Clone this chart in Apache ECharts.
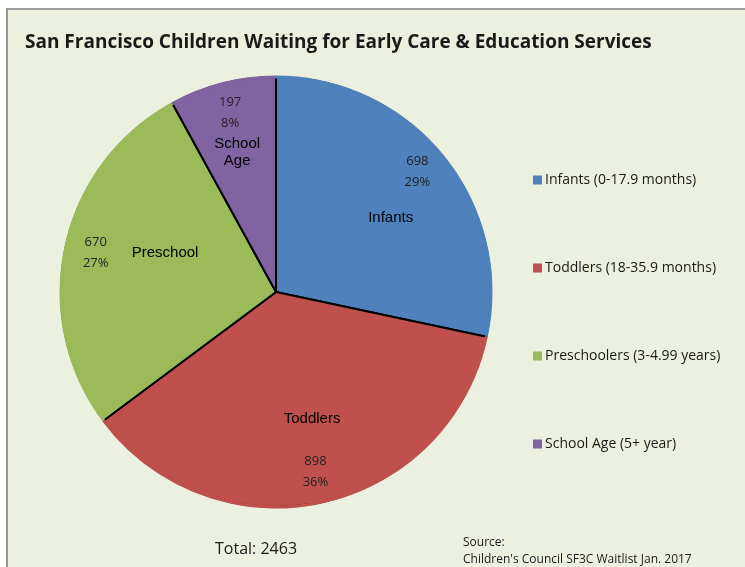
<!DOCTYPE html>
<html>
<head>
<meta charset="utf-8">
<script src="https://cdn.jsdelivr.net/npm/echarts@6/dist/echarts.min.js"></script>
<style>
html,body{margin:0;padding:0;background:#fff;width:745px;height:567px;overflow:hidden;}
#bg{position:absolute;left:6px;top:8px;width:760px;height:580px;background:#EBF1DE;border-left:2px solid #9a9a9a;border-top:2px solid #9a9a9a;box-sizing:border-box;}
#main{position:absolute;left:0;top:0;width:745px;height:567px;}
</style>
</head>
<body>
<div id="bg"></div>
<div id="main"></div>
<script>
const categories = ['Infants', 'Toddlers', 'Preschool', 'School Age'];
const legendNames = ['Infants (0-17.9 months)', 'Toddlers (18-35.9 months)', 'Preschoolers (3-4.99 years)', 'School Age (5+ year)'];
const sliceLabels = ['Infants', 'Toddlers', 'Preschool', 'School\nAge'];
const values = [698, 898, 670, 197];
const percentLabels = ['29%', '36%', '27%', '8%'];
const colors = ['#4F81BD', '#C0504D', '#9BBB59', '#8064A2'];
const sourceLines = ['Source:', "Children's Council SF3C Waitlist Jan. 2017"];

const total = values.reduce((a, b) => a + b, 0);
const data = values.map((v, i) => ({ name: legendNames[i], value: v, itemStyle: { color: colors[i] } }));
const clear = values.map((v, i) => ({ name: legendNames[i], value: v, itemStyle: { color: 'rgba(0,0,0,0)' } }));
const CX = 276, CY = 292, R = 215;
const nameNudge = [[9, 11], [7, -6], [22, -10], [-5, -8]];
const valNudge = [[-2, -4], [0, 0], [0, 0], [0, 0]];
const base = { type: 'pie', center: [CX, CY], startAngle: 90, clockwise: true, animation: false, silent: true, avoidLabelOverlap: false, labelLine: { show: false }, emphasis: { disabled: true } };

const chart = echarts.init(document.getElementById('main'), null, { renderer: 'canvas' });
chart.setOption({
  backgroundColor: 'transparent',
  color: colors,
  title: [
    { text: 'San Francisco Children Waiting for Early Care & Education Services', left: 25, top: 33, padding: 0,
      textStyle: { fontFamily: 'Open Sans', fontWeight: 'bold', fontSize: 19, color: '#1a1a1a' } },
    { text: 'Total: ' + total, left: 215, top: 541, padding: 0,
      textStyle: { fontFamily: 'Open Sans', fontWeight: 'normal', fontSize: 16, color: '#1a1a1a' } },
    { text: sourceLines.join('\n'), left: 463, top: 534, padding: 0,
      textStyle: { fontFamily: 'Open Sans', fontWeight: 'normal', fontSize: 12, lineHeight: 17, color: '#1a1a1a' } }
  ],
  legend: {
    orient: 'vertical', left: 528, top: 168, itemWidth: 9, itemHeight: 9, itemGap: 74,
    icon: 'rect', data: legendNames, selectedMode: false,
    itemStyle: { borderWidth: 0 },
    textStyle: { fontFamily: 'Open Sans', fontSize: 14, color: '#1a1a1a', padding: [0, 0, 0, -2] }
  },
  series: [
    Object.assign({}, base, { name: 'main', radius: R, data: data, label: { show: false },
      itemStyle: { borderColor: '#000', borderWidth: 2 } }),
    Object.assign({}, base, { name: 'rim', radius: [R - 1.5, R + 1.5], data: data, label: { show: false },
      itemStyle: { borderWidth: 0 } }),
    Object.assign({}, base, { name: 'vals', radius: [157, 206], data: clear,
      label: { show: true, position: 'inside', fontFamily: 'Open Sans', fontSize: 13, lineHeight: 21, color: '#222',
        formatter: p => p.value + '\n' + percentLabels[p.dataIndex] },
      labelLayout: p => ({ dx: valNudge[p.dataIndex][0], dy: valNudge[p.dataIndex][1] }) }),
    Object.assign({}, base, { name: 'names', radius: [100, 166], data: clear,
      label: { show: true, position: 'inside', fontFamily: 'Liberation Sans', fontSize: 15, lineHeight: 17, color: '#000',
        formatter: p => sliceLabels[p.dataIndex] },
      labelLayout: p => ({ dx: nameNudge[p.dataIndex][0], dy: nameNudge[p.dataIndex][1] }) })
  ]
});
</script>
</body>
</html>
